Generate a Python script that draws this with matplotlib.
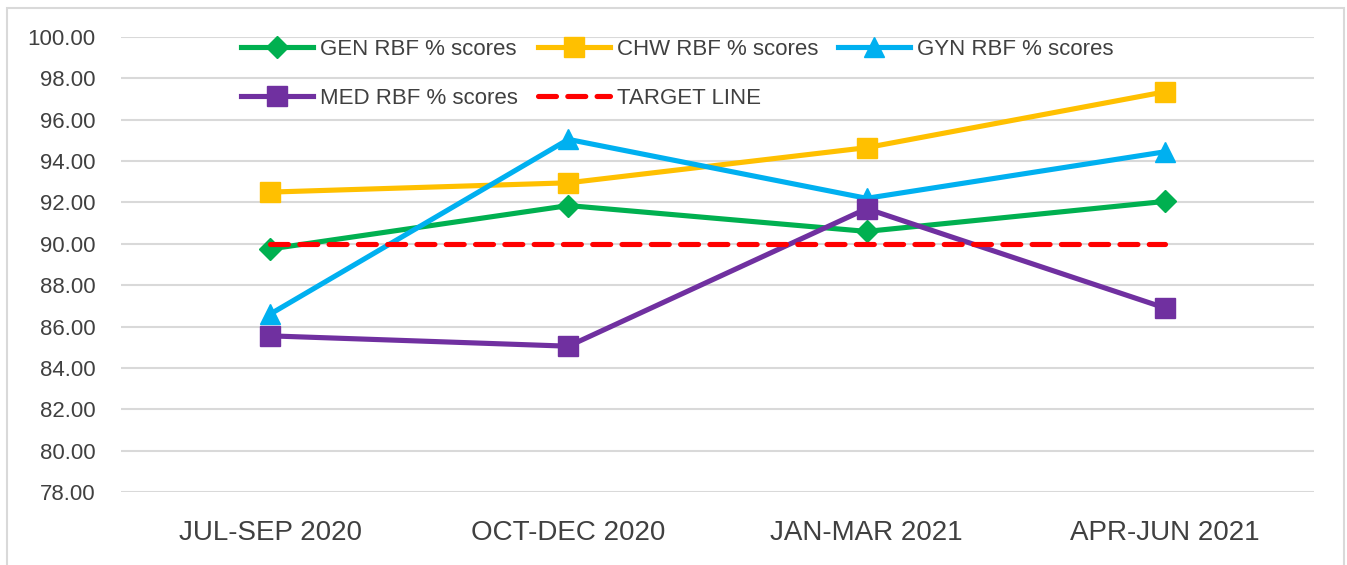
import numpy as np
import matplotlib.pyplot as plt
from matplotlib.patches import Rectangle

plt.rcParams['font.family'] = ['Liberation Sans', 'DejaVu Sans']

quarters = ['JUL-SEP 2020', 'OCT-DEC 2020', 'JAN-MAR 2021', 'APR-JUN 2021']
gen = [89.75, 91.85, 90.60, 92.05]
chw = [92.50, 92.95, 94.65, 97.35]
gyn = [86.60, 95.05, 92.20, 94.45]
med = [85.55, 85.05, 91.70, 86.90]
target = [90.0, 90.0, 90.0, 90.0]

fig = plt.figure(figsize=(13.47, 5.65), dpi=100)
ax = fig.add_axes([121/1347, 1-492/565, (1314-121)/1347, (492-37)/565])

x = np.arange(len(quarters))
lw = 3.7
l_gen, = ax.plot(x, gen, color='#00B050', lw=lw, marker='D', ms=11, label='GEN RBF % scores')
l_chw, = ax.plot(x, chw, color='#FFC000', lw=lw, marker='s', ms=14, label='CHW RBF % scores')
l_gyn, = ax.plot(x, gyn, color='#00B0F0', lw=lw, marker='^', ms=14, label='GYN RBF % scores')
l_med, = ax.plot(x, med, color='#7030A0', lw=lw, marker='s', ms=14, label='MED RBF % scores')
l_tgt, = ax.plot(x, target, color='#FF0000', lw=lw, ls=(0, (3.5, 2.2)), dash_capstyle='round',
                 label='TARGET LINE')

ax.set_xlim(-0.5, 3.5)
ax.set_ylim(78, 100)
ax.set_yticks(np.arange(78, 100.1, 2))
ax.yaxis.set_major_formatter(plt.FuncFormatter(lambda v, p: f'{v:.2f}'))
ax.set_xticks(x)
ax.set_xticklabels(quarters)
ax.tick_params(axis='y', length=0, pad=18.5, labelsize=16, labelcolor='#404040')
ax.tick_params(axis='x', length=0, pad=20, labelsize=20, labelcolor='#404040')
for s in ax.spines.values():
    s.set_visible(False)
ax.yaxis.grid(True, color='#D9D9D9', lw=1.5, zorder=0)
ax.set_axisbelow(True)

## Легенда в два ряда
handles = [l_gen, l_med, l_chw, l_tgt, l_gyn]
ax.legend(handles=handles, labels=[h.get_label() for h in handles], ncol=3, frameon=False,
          loc='upper left', bbox_to_anchor=(241/1347, 1-39/565), bbox_transform=fig.transFigure,
          fontsize=16, handlelength=3.25, handletextpad=0.3, columnspacing=0.9,
          labelspacing=1.25, borderpad=0, borderaxespad=0, labelcolor='#404040')

# рамка диаграммы
fig.patches.append(Rectangle((7/1347, -0.05), (1344-7)/1347, 1.05-8/565, transform=fig.transFigure,
                             fill=False, edgecolor='#D9D9D9', lw=1.5))

plt.savefig('out.png', dpi=100)
